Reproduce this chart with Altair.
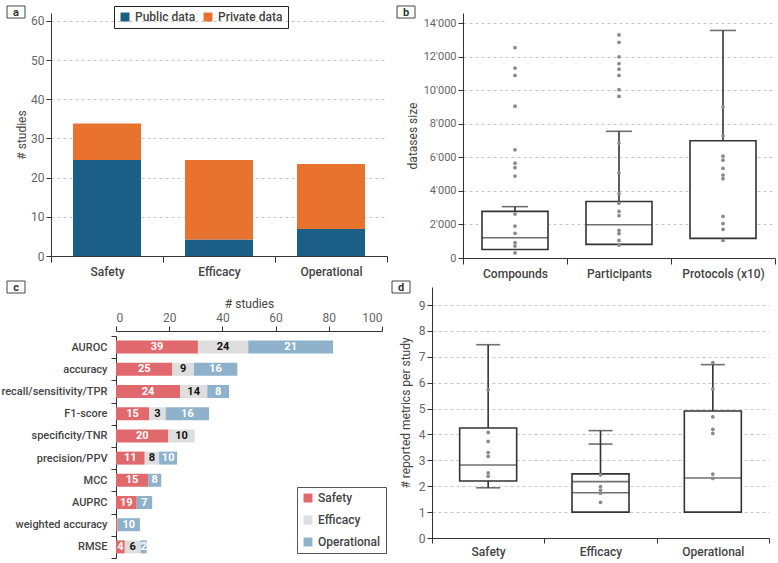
import altair as alt
import pandas as pd

FONT = "Roboto"
INK = "#333333"
TXT = "#444444"
NUM = "#666666"
GRID = "#c8c8c8"

# ---------------- panel a : data source per category ----------------
a_categories = ["Safety", "Efficacy", "Operational"]
a_sources = ["Public data", "Private data"]
a_public = [24.5, 4.2, 6.9]
a_private = [9.3, 20.3, 16.6]
a_colors = ["#1c5f86", "#e8732f"]

# ---------------- panel b : dataset sizes ----------------
b_groups = ["Compounds", "Participants", "Protocols (x10)"]
b_q1 = [510, 810, 1170]
b_median = [1210, 1980, None]
b_q3 = [2780, 3370, 6990]
b_upper = [3060, 7550, 13560]
b_pts_compounds = [12530, 11320, 10880, 9050, 6450, 5650, 5380, 4880, 2620, 1900, 1470, 910, 710, 300]
b_pts_participants = [13290, 12850, 11990, 11590, 11250, 10880, 10030, 9630, 6850, 5080,
                      3830, 3270, 2780, 2520, 1650, 1450, 1050, 770]
b_pts_protocols = [9000, 7290, 6070, 5830, 5340, 4940, 4730, 2480, 2050, 1710, 1050]
b_ticks = [0, 2000, 4000, 6000, 8000, 10000, 12000, 14000]

# ---------------- panel c : reported metrics ----------------
c_metrics = ["AUROC", "accuracy", "recall/sensitivity/TPR", "F1-score", "specificity/TNR",
             "precision/PPV", "MCC", "AUPRC", "weighted accuracy", "RMSE"]
c_categories = ["Safety", "Efficacy", "Operational"]
c_colors = ["#e0696d", "#dedede", "#8fb2cc"]
c_safety = [30.8, 21.2, 24.1, 12.4, 19.7, 10.8, 12.1, 7.8, 0.6, 3.3]
c_efficacy = [18.9, 8.1, 10.2, 6.3, 9.9, 5.4, 0, 0, 0, 6.0]
c_operational = [31.9, 16.3, 8.2, 16.3, 0, 6.8, 4.9, 5.8, 8.4, 2.2]
c_safety_labels = ["39", "25", "24", "15", "20", "11", "15", "19", "", "4"]
c_efficacy_labels = ["24", "9", "14", "3", "10", "8", "", "", "", "6"]
c_operational_labels = ["21", "16", "8", "16", "", "10", "8", "7", "10", "2"]
c_ticks = [0, 20, 40, 60, 80, 100]

# ---------------- panel d : metrics per study ----------------
d_groups = ["Safety", "Efficacy", "Operational"]
d_lower = [1.94, None, None]
d_q1 = [2.20, 1.0, 1.0]
d_median = [2.82, 1.75, 2.32]
d_second = [None, 2.18, None]
d_q3 = [4.25, 2.48, 4.91]
d_upper = [7.47, 4.15, 6.70]
d_inner_cap = [None, 3.63, None]
d_pts_safety = [5.73, 4.08, 3.73, 3.30, 3.15, 2.52, 2.39]
d_pts_efficacy = [2.44, 1.99, 1.85, 1.73, 1.38]
d_pts_operational = [6.78, 5.76, 4.68, 4.20, 4.04, 2.47, 2.30]
d_ticks = list(range(0, 10))


def tag(letter, cx, cy):
    df = pd.DataFrame({"t": [letter]})
    box = alt.Chart(df).mark_rect(fill="white", stroke="#444444", strokeWidth=1).encode(
        x=alt.value(cx - 9), x2=alt.value(cx + 9), y=alt.value(cy - 6), y2=alt.value(cy + 6))
    txt = alt.Chart(df).mark_text(font=FONT, fontSize=11, fontWeight="bold", color="#333333").encode(
        x=alt.value(cx), y=alt.value(cy + 0.5), text="t:N")
    return [box, txt]


def cat_axis(tick=6, pad=4):
    return alt.Axis(title=None, tickBand="extent", labelAngle=0, labelFontSize=12, labelFontWeight=500,
                    labelColor=TXT, labelPadding=pad, tickSize=tick, tickColor=INK, domainColor=INK, grid=False)


def num_axis(values, title, label_expr=None, title_pad=6, label_size=12):
    kw = dict(values=values, title=title, grid=True, gridDash=[3, 3], gridColor=GRID, labelColor=NUM,
              labelFontSize=label_size, tickSize=5, tickColor=INK, domainColor=INK, titleFontSize=12,
              titleColor=TXT, titleFontWeight="normal", titlePadding=title_pad)
    if label_expr:
        kw["labelExpr"] = label_expr
    return alt.Axis(**kw)


# ---------------- panel a ----------------
rows = []
for i, c in enumerate(a_categories):
    rows.append({"category": c, "source": "Public data", "value": a_public[i], "o": 0})
    rows.append({"category": c, "source": "Private data", "value": a_private[i], "o": 1})
df_a = pd.DataFrame(rows)

bars_a = alt.Chart(df_a).mark_bar(size=68).encode(
    x=alt.X("category:N", sort=a_categories, scale=alt.Scale(paddingInner=0, paddingOuter=0), axis=cat_axis()),
    y=alt.Y("value:Q", stack="zero", scale=alt.Scale(domain=[0, 62], nice=False),
            axis=num_axis(list(range(0, 61, 10)), "# studies", title_pad=2)),
    color=alt.Color("source:N", scale=alt.Scale(domain=a_sources, range=a_colors),
                    legend=alt.Legend(title=None, orient="none", direction="horizontal", legendX=63, legendY=-7,
                                      symbolType="square", symbolSize=80, symbolStrokeWidth=0,
                                      labelFontSize=12, labelFontWeight=500, labelColor=TXT,
                                      strokeColor="#222222", padding=5, columnPadding=6)),
    order=alt.Order("o:Q"),
)
panel_a = alt.layer(bars_a, *tag("a", -35, -1)).properties(width=336, height=243)


# ---------------- box panels ----------------
def box_panel(groups, q1, med, q3, upper, lower, points, ydom, yvals, ytitle, width, height,
              boxw, capw, label_expr=None, second=None, inner_cap=None, tagpos=(0, 0), letter="b",
              title_pad=6, label_size=12, tick=6, pad=4):
    stats = pd.DataFrame({"group": groups, "q1": q1, "median": med, "q3": q3, "upper": upper,
                          "lower": lower, "second": second or [None] * len(groups),
                          "icap": inner_cap or [None] * len(groups)})
    gs, vs = [], []
    for g, vals in zip(groups, points):
        gs += [g] * len(vals)
        vs += vals
    pts = pd.DataFrame({"group": gs, "value": vs})
    yax = num_axis(yvals, ytitle, label_expr, title_pad, label_size)
    X = alt.X("group:N", sort=groups, scale=alt.Scale(domain=groups, paddingInner=0, paddingOuter=0),
              axis=cat_axis(tick, pad))

    def Y(f):
        return alt.Y(f"{f}:Q", scale=alt.Scale(domain=ydom, nice=False), axis=yax, title=ytitle)

    layers = [
        alt.Chart(stats).mark_rule(color=INK, strokeWidth=1.6).encode(x=X, y=Y("q3"), y2="upper:Q"),
    ]
    if any(v is not None for v in lower):
        layers.append(alt.Chart(stats).mark_rule(color=INK, strokeWidth=1.6).encode(x=X, y=Y("lower"), y2="q1:Q"))
        layers.append(alt.Chart(stats).mark_tick(color=INK, size=capw, thickness=1.6).encode(x=X, y=Y("lower")))
    layers += [
        alt.Chart(stats).mark_bar(size=boxw, fill="white", stroke=INK, strokeWidth=1.6).encode(
            x=X, y=Y("q1"), y2="q3:Q"),
        alt.Chart(stats).mark_tick(color=INK, size=boxw, thickness=1.6).encode(x=X, y=Y("median")),
        alt.Chart(stats).mark_tick(color=INK, size=capw, thickness=1.6).encode(x=X, y=Y("upper")),
    ]
    if second:
        layers.append(alt.Chart(stats).mark_tick(color=INK, size=boxw, thickness=1.6).encode(x=X, y=Y("second")))
    if inner_cap:
        layers.append(alt.Chart(stats).mark_tick(color=INK, size=capw, thickness=1.6).encode(x=X, y=Y("icap")))
    layers.append(alt.Chart(pts).mark_circle(size=14, color="#8a8a8a", opacity=1).encode(x=X, y=Y("value")))
    layers += tag(letter, *tagpos)
    return alt.layer(*layers).properties(width=width, height=height)


apos = "replace(format(datum.value, ','), ',', \"'\")"
panel_b = box_panel(b_groups, b_q1, b_median, b_q3, b_upper, [None] * 3,
                    [b_pts_compounds, b_pts_participants, b_pts_protocols],
                    [0, 14600], b_ticks, "datases size", 312, 245, 66, 26,
                    label_expr=apos, tagpos=(-57, -1), letter="b", title_pad=4, label_size=11)

panel_d = box_panel(d_groups, d_q1, d_median, d_q3, d_upper, d_lower,
                    [d_pts_safety, d_pts_efficacy, d_pts_operational],
                    [0, 9.7], d_ticks, "# reported metrics per study", 337, 251, 57, 24,
                    second=d_second, inner_cap=d_inner_cap, tagpos=(-31, 0), letter="d", tick=5, pad=3)

# ---------------- panel c ----------------
rows = []
for i, m in enumerate(c_metrics):
    for k, (cat, vals, labs) in enumerate(zip(c_categories, [c_safety, c_efficacy, c_operational],
                                              [c_safety_labels, c_efficacy_labels, c_operational_labels])):
        rows.append({"metric": m, "category": cat, "value": vals[i], "label": labs[i], "o": k})
df_c = pd.DataFrame(rows)

base_c = alt.Chart(df_c).transform_stack(
    stack="value", groupby=["metric"], as_=["x0", "x1"], sort=[alt.SortField("o", order="ascending")]
).transform_calculate(mid="(datum.x0 + datum.x1) / 2")

# panel c shares its left edge with panel a; the bars start further right, inside the panel
C_LEFT = 65
C_W = 331
C_AX = 44
C_TOP = 49
C_H = 271
Yc = alt.Y("metric:N", sort=c_metrics,
           scale=alt.Scale(domain=c_metrics, paddingInner=0, paddingOuter=0, range=[C_TOP, C_H]),
           axis=alt.Axis(title=None, offset=-C_LEFT, tickBand="extent", labelFontSize=11, labelFontWeight=500,
                         labelColor=TXT, labelPadding=4, tickSize=5, tickColor=INK, domainColor=INK, grid=False))
Xc = alt.X("x0:Q", scale=alt.Scale(domain=[0, 100], nice=False, range=[C_LEFT, C_W]),
           axis=alt.Axis(orient="top", offset=-C_AX, values=c_ticks, title="# studies", titleFontSize=12,
                         titleColor=TXT, titleFontWeight="normal", titlePadding=1, labelColor=NUM,
                         labelFontSize=12, tickSize=5, tickColor=INK, domainColor=INK, grid=False))

bars_c = base_c.transform_filter("datum.value > 0").mark_bar(size=13).encode(
    y=Yc, x=Xc, x2="x1:Q",
    color=alt.Color("category:N", scale=alt.Scale(domain=c_categories, range=c_colors),
                    legend=alt.Legend(title=None, orient="none", legendX=246, legendY=200, direction="vertical",
                                      symbolType="square", symbolSize=80, symbolStrokeWidth=0,
                                      labelFontSize=12, labelFontWeight=500, labelColor=TXT,
                                      strokeColor="#555555", padding=5, rowPadding=10)),
)
txt_white = base_c.transform_filter("datum.label != '' && datum.category != 'Efficacy'").mark_text(
    font=FONT, fontSize=11, fontWeight="bold", color="white").encode(y=Yc, x=alt.X("mid:Q"), text="label:N")
txt_black = base_c.transform_filter("datum.label != '' && datum.category == 'Efficacy'").mark_text(
    font=FONT, fontSize=11, fontWeight="bold", color="#111111").encode(y=Yc, x=alt.X("mid:Q"), text="label:N")

panel_c = alt.layer(bars_c, txt_white, txt_black, *tag("c", -35, 0)).properties(width=C_W, height=C_H)

top = alt.hconcat(panel_a, panel_b, spacing=8).resolve_scale(color="independent")
bottom = alt.hconcat(panel_c, panel_d, spacing=4).resolve_scale(color="independent")

chart = alt.vconcat(top, bottom, spacing=1).resolve_scale(
    color="independent"
).properties(
    padding={"left": 0, "top": 5, "right": 0, "bottom": 0}
).configure_view(stroke=None).configure_axis(
    labelFont=FONT, titleFont=FONT
).configure_legend(labelFont=FONT).configure_text(font=FONT)

chart.save("out.html", embed_options={"renderer": "svg", "actions": False})
